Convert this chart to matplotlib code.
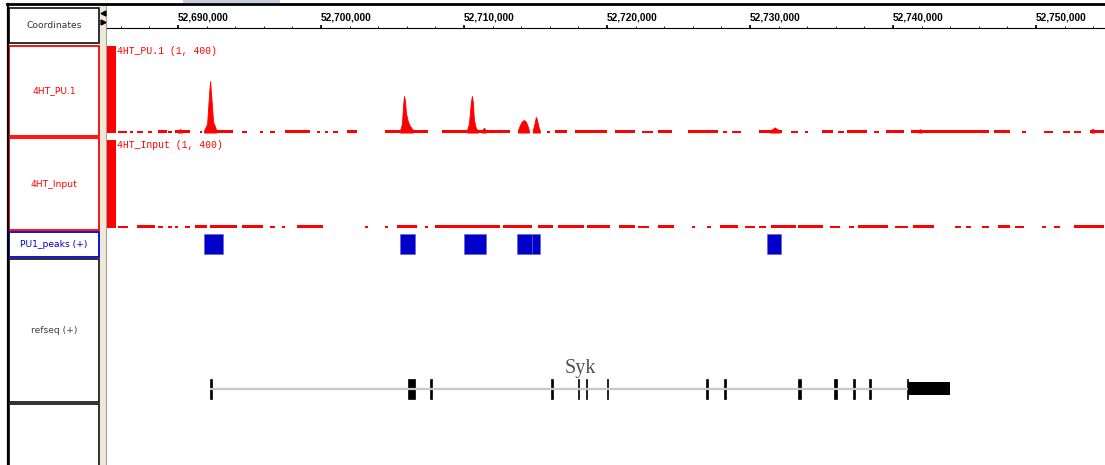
import matplotlib.pyplot as plt
from matplotlib.patches import Rectangle

W, H = 1105, 465
RED = "#ff0000"
BLUE = "#0000c8"
GREY_TXT = "#404040"

# ---- data (positions in kb on chr) ----
view_start, view_end = 52685.03, 52754.83
ruler_major = [52690, 52700, 52710, 52720, 52730, 52740, 52750]
ruler_minor = [52686 + 2 * i for i in range(35)]

track_names = ["4HT_PU.1", "4HT_Input", "PU1_peaks (+)", "refseq (+)"]
track_colors = [RED, RED, BLUE, GREY_TXT]
data_range = (1, 400)

# leftmost bin is clipped at the track maximum in both signal tracks
edge_bin = (52685.03, 52685.67, 400)

# PU.1 background coverage: (start, end, value)
pu1_bg = [
    (52685.81, 52686.43, 9), (52686.64, 52686.85, 9), (52687.13, 52687.55, 9),
    (52687.90, 52688.18, 9), (52688.60, 52689.23, 10), (52689.30, 52689.58, 9),
    (52689.79, 52690.84, 10), (52691.54, 52691.68, 9), (52692.59, 52693.84, 10),
    (52694.47, 52694.82, 9), (52695.73, 52695.94, 9), (52696.43, 52696.78, 9),
    (52697.48, 52699.23, 10), (52699.72, 52699.93, 9), (52700.28, 52700.49, 9),
    (52700.83, 52701.18, 9), (52701.81, 52702.51, 10), (52704.47, 52705.52, 10),
    (52706.43, 52707.48, 10), (52708.45, 52710.20, 10), (52710.90, 52713.21, 10),
    (52715.79, 52716.00, 9), (52716.35, 52717.19, 10), (52717.75, 52719.99, 10),
    (52720.55, 52721.94, 10), (52722.43, 52723.20, 9), (52723.55, 52724.53, 10),
    (52725.65, 52727.75, 10), (52728.10, 52728.38, 9), (52728.72, 52729.35, 9),
    (52730.61, 52732.22, 10), (52732.85, 52733.34, 9), (52733.83, 52734.04, 9),
    (52735.02, 52735.78, 10), (52736.13, 52736.55, 9), (52736.76, 52738.16, 10),
    (52738.65, 52739.00, 9), (52739.49, 52740.75, 10), (52741.24, 52746.69, 10),
    (52747.04, 52748.16, 10), (52749.00, 52749.28, 9), (52750.53, 52751.16, 9),
    (52751.86, 52752.35, 9), (52752.63, 52753.12, 9), (52753.75, 52754.73, 10),
]

# PU.1 enriched regions: position / value profiles
pu1_peak_pos = [
    [52690.00, 52690.14, 52690.28],
    [52691.82, 52692.03, 52692.17, 52692.24, 52692.31, 52692.45, 52692.66],
    [52705.52, 52705.66, 52705.73, 52705.80, 52705.87, 52705.94, 52706.08, 52706.22, 52706.43],
    [52710.20, 52710.34, 52710.48, 52710.55, 52710.62, 52710.69, 52710.83, 52710.97],
    [52711.25, 52711.39, 52711.53],
    [52713.77, 52713.91, 52714.05, 52714.19, 52714.33, 52714.47, 52714.54],
    [52714.81, 52714.95, 52715.02, 52715.09, 52715.23, 52715.30],
    [52731.38, 52731.59, 52731.73, 52731.87, 52732.08],
    [52741.80, 52741.90, 52742.00],
    [52753.85, 52753.96, 52754.07],
]
pu1_peak_val = [
    [10, 16, 10],
    [10, 40, 180, 238, 180, 50, 14],
    [10, 40, 120, 169, 150, 90, 50, 30, 12],
    [10, 40, 140, 169, 140, 60, 20, 10],
    [10, 22, 10],
    [10, 35, 52, 58, 50, 26, 10],
    [10, 48, 72, 62, 22, 10],
    [10, 17, 24, 17, 10],
    [10, 16, 10],
    [10, 18, 10],
]

# Input background coverage: (start, end, value)
input_bg = [
    (52685.81, 52686.50, 10), (52687.13, 52688.39, 12), (52688.60, 52688.95, 10),
    (52689.30, 52689.58, 10), (52689.79, 52690.00, 10), (52690.49, 52690.84, 10),
    (52691.19, 52692.03, 12), (52692.24, 52694.12, 12), (52694.47, 52695.94, 12),
    (52696.43, 52696.78, 10), (52697.27, 52697.48, 10), (52698.32, 52700.14, 12),
    (52703.07, 52703.28, 10), (52704.47, 52704.68, 10), (52705.31, 52706.71, 12),
    (52707.27, 52707.48, 10), (52707.96, 52712.51, 12), (52712.72, 52714.74, 12),
    (52715.16, 52716.21, 12), (52716.56, 52718.38, 12), (52718.59, 52720.20, 12),
    (52720.83, 52721.94, 12), (52722.15, 52722.92, 10), (52723.55, 52724.67, 12),
    (52725.93, 52726.14, 10), (52726.98, 52727.26, 10), (52727.89, 52729.14, 12),
    (52729.63, 52730.33, 10), (52730.61, 52731.10, 10), (52731.45, 52733.20, 12),
    (52733.34, 52735.09, 12), (52735.57, 52736.27, 10), (52736.90, 52737.25, 10),
    (52737.53, 52739.63, 12), (52740.12, 52741.03, 10), (52741.38, 52742.85, 12),
    (52744.31, 52744.73, 10), (52745.08, 52745.43, 10), (52746.20, 52746.69, 10),
    (52747.32, 52748.16, 12), (52748.51, 52749.14, 10), (52750.39, 52750.67, 10),
    (52751.23, 52751.65, 10), (52752.63, 52754.73, 12),
]

# called peaks (start, end)
peak_start = [52691.82, 52705.52, 52710.00, 52713.70, 52714.78, 52731.17]
peak_end = [52693.15, 52706.57, 52711.53, 52714.75, 52715.30, 52732.15]

# Syk gene model
gene_name = "Syk"
gene_span = (52692.24, 52741.06)
exon_start = [52692.24, 52706.08, 52707.62, 52716.10, 52717.96, 52718.52, 52720.00,
              52726.92, 52728.17, 52733.34, 52735.86, 52737.18, 52738.30, 52740.96]
exon_end = [52692.38, 52706.57, 52707.76, 52716.25, 52718.03, 52718.59, 52720.07,
            52727.06, 52728.31, 52733.55, 52736.07, 52737.32, 52738.44, 52741.06]
utr = (52741.06, 52744.00)


def frac(x0, y0, x1, y1):
    return [x0 / W, 1 - y1 / H, (x1 - x0) / W, (y1 - y0) / H]


def data_axes(y0, y1):
    a = fig.add_axes(frac(107, y0, W, y1))
    a.set_xlim(view_start, view_end)
    a.axis("off")
    return a


fig = plt.figure(figsize=(W / 100, H / 100), dpi=100)
fig.patch.set_facecolor("white")

# ---- chrome: name panel, divider, borders (pixel coordinates) ----
ui = fig.add_axes([0, 0, 1, 1])
ui.set_xlim(0, W)
ui.set_ylim(H, 0)
ui.axis("off")

ui.add_patch(Rectangle((100, 5), 6, H, facecolor="#ece9d8", edgecolor="none"))
ui.plot([106, 106], [5, H], color="#a0a0a0", lw=0.8)
ui.plot([7.5, 7.5], [4, H], color="black", lw=1.6)
ui.plot([7, W], [4, 4], color="black", lw=2.0)
ui.add_patch(Rectangle((183, 0), 97, 3, facecolor="#c8cce0", edgecolor="none"))
ui.plot([103], [13], marker="<", color="black", ms=3.5)
ui.plot([103], [22], marker=">", color="black", ms=3.5)

boxes = [(8, 43), (46, 136), (138, 230), (232, 257), (259, 402), (404, 480)]
box_edges = ["#202020", RED, RED, BLUE, "#202020", "#202020"]
box_labels = ["Coordinates"] + track_names + [""]
label_colors = ["#303030"] + track_colors + ["#303030"]
for (y0, y1), ec, lab, lc in zip(boxes, box_edges, box_labels, label_colors):
    ui.add_patch(Rectangle((9, y0), 90, y1 - y0, facecolor="white",
                           edgecolor=ec, lw=1.3))
    if lab:
        ui.text(54, (y0 + y1) / 2, lab, ha="center", va="center",
                color=lc, fontsize=6.6, family="DejaVu Sans")

# ---- ruler ----
ruler = data_axes(8, 28)
ruler.set_ylim(0, 1)
ruler.plot([view_start, view_end], [0, 0], color="black", lw=0.8, clip_on=False)
ruler.vlines(ruler_minor, 0, 0.1, color="black", lw=0.6)
ruler.vlines(ruler_major, -0.05, 0.15, color="black", lw=1.2)
for t in ruler_major:
    ruler.text(t, 0.55, f"{t * 1000:,}", ha="left", va="center",
               fontsize=7.3, fontweight="bold", family="Liberation Sans")


def draw_signal(a, bg, name):
    s, e, v = edge_bin
    a.bar(s, v, width=e - s, align="edge", color=RED, lw=0)
    a.bar([b[0] for b in bg], [b[2] for b in bg],
          width=[b[1] - b[0] for b in bg], align="edge", color=RED, lw=0)
    a.text(0.0105, 0.94, f"{name} ({data_range[0]}, {data_range[1]})",
           transform=a.transAxes, ha="left", va="center", color=RED,
           fontsize=7, family="Liberation Mono")


# ---- 4HT_PU.1 ----
pu = data_axes(46, 133)
pu.set_ylim(-2, data_range[1])
draw_signal(pu, pu1_bg, track_names[0])
for xs, vs in zip(pu1_peak_pos, pu1_peak_val):
    pu.fill_between(xs, 0, vs, color=RED, lw=0.6, edgecolor=RED)

# ---- 4HT_Input ----
inp = data_axes(140, 229)
inp.set_ylim(-4, data_range[1])
draw_signal(inp, input_bg, track_names[1])

# ---- PU1_peaks ----
pk = data_axes(232, 257)
pk.set_ylim(0, 1)
pk.bar(peak_start, 0.8, bottom=0.12,
       width=[e - s for s, e in zip(peak_start, peak_end)],
       align="edge", color=BLUE, edgecolor="#5a5ae0", lw=0.4)

# ---- refseq ----
rs = data_axes(259, 402)
rs.set_ylim(0, 1)
rs.plot(gene_span, [0.091, 0.091], color="#c8c8c8", lw=1.6, solid_capstyle="butt")
rs.bar(exon_start, 0.14, bottom=0.021,
       width=[e - s for s, e in zip(exon_start, exon_end)],
       align="edge", color="black", edgecolor="black", lw=0.5)
rs.bar(utr[0], 0.091, bottom=0.046, width=utr[1] - utr[0],
       align="edge", color="black", lw=0)
rs.text((gene_span[0] + utr[1]) / 2, 0.235, gene_name, ha="center", va="center",
        color="#505050", fontsize=14.5, family="Liberation Serif")

fig.savefig("out.png", dpi=100, facecolor="white")
